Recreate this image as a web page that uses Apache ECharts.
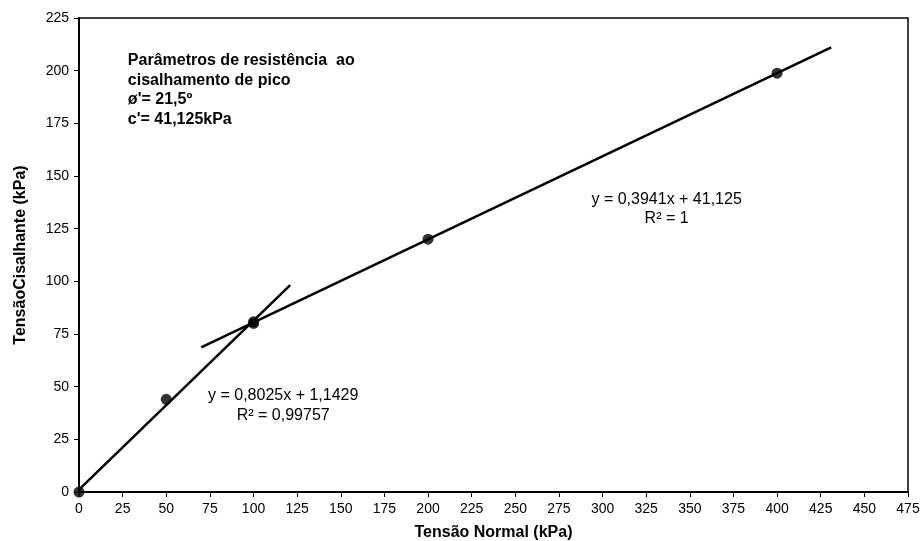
<!DOCTYPE html>
<html><head><meta charset="utf-8">
<script src="https://cdn.jsdelivr.net/npm/echarts@6/dist/echarts.min.js"></script>
<style>html,body{margin:0;padding:0;background:#fff}#c{width:922px;height:541px}</style>
</head><body><div id="c"></div>
<script>
var xTicks = [0,25,50,75,100,125,150,175,200,225,250,275,300,325,350,375,400,425,450,475];
var yTicks = [0,25,50,75,100,125,150,175,200,225];
var pointsX = [0, 50, 100, 100, 200, 400];
var pointsY = [0, 44, 80, 80.8, 120, 198.8];
var trend1X = [0, 121];
var trend1Y = [1.1, 98.2];
var trend2X = [70, 431];
var trend2Y = [68.7, 211];
var eq1 = ['y = 0,8025x + 1,1429', 'R² = 0,99757'];
var eq2 = ['y = 0,3941x + 41,125', 'R² = 1'];
var note = ['Parâmetros de resistência  ao', 'cisalhamento de pico', "ø'= 21,5º", "c'= 41,125kPa"];

var chart = echarts.init(document.getElementById('c'));
function zip(a,b){return a.map(function(v,i){return [v,b[i]];});}
var font = 'Liberation Sans, Arial, sans-serif';
chart.setOption({
  animation:false,
  backgroundColor:'#fff',
  grid:{left:79,right:14,top:18,bottom:49,show:true,borderColor:'#000',borderWidth:1.5,
    containLabel:false,outerBoundsMode:'none'},
  xAxis:{type:'value',min:0,max:475,interval:25,
    name:'Tensão Normal (kPa)',nameLocation:'middle',nameGap:33,
    nameTextStyle:{fontFamily:font,fontWeight:'bold',fontSize:16,color:'#000'},
    axisLine:{lineStyle:{color:'#000',width:2}},
    axisTick:{show:true,length:5,lineStyle:{color:'#000',width:1}},
    axisLabel:{fontFamily:font,fontSize:14,color:'#000',margin:10},
    splitLine:{show:false}},
  yAxis:{type:'value',min:0,max:225,interval:25,
    name:'TensãoCisalhante (kPa)',nameLocation:'middle',nameGap:50,
    nameTextStyle:{fontFamily:font,fontWeight:'bold',fontSize:16,color:'#000'},
    axisLine:{show:true,lineStyle:{color:'#000',width:2}},
    axisTick:{show:true,length:5,lineStyle:{color:'#000',width:1}},
    axisLabel:{fontFamily:font,fontSize:14,color:'#000',margin:10},
    splitLine:{show:false}},
  series:[
    {type:'line',data:zip(trend1X,trend1Y),symbol:'none',lineStyle:{color:'#000',width:2.5},z:2},
    {type:'line',data:zip(trend2X,trend2Y),symbol:'none',lineStyle:{color:'#000',width:2.5},z:2},
    {type:'scatter',data:zip(pointsX,pointsY),symbol:'circle',symbolSize:11,itemStyle:{color:'#000'},z:3}
  ]
});
function px(x,y){return chart.convertToPixel({gridIndex:0},[x,y]);}
var p1 = px(117, 40.8), p2 = px(336.7, 134.5);
var pn = px(28, 209.3);
var g = [];
g.push({type:'text',x:pn[0],y:pn[1],style:{text:note.join('\n'),font:'bold 16px '+font,fill:'#000',lineHeight:19.5,verticalAlign:'top'}});
g.push({type:'text',x:p1[0],y:p1[1],style:{text:eq1.join('\n'),font:'16px '+font,fill:'#000',align:'center',verticalAlign:'middle',lineHeight:20}});
g.push({type:'text',x:p2[0],y:p2[1],style:{text:eq2.join('\n'),font:'16px '+font,fill:'#000',align:'center',verticalAlign:'middle',lineHeight:19}});
chart.setOption({graphic:g});
</script></body></html>
